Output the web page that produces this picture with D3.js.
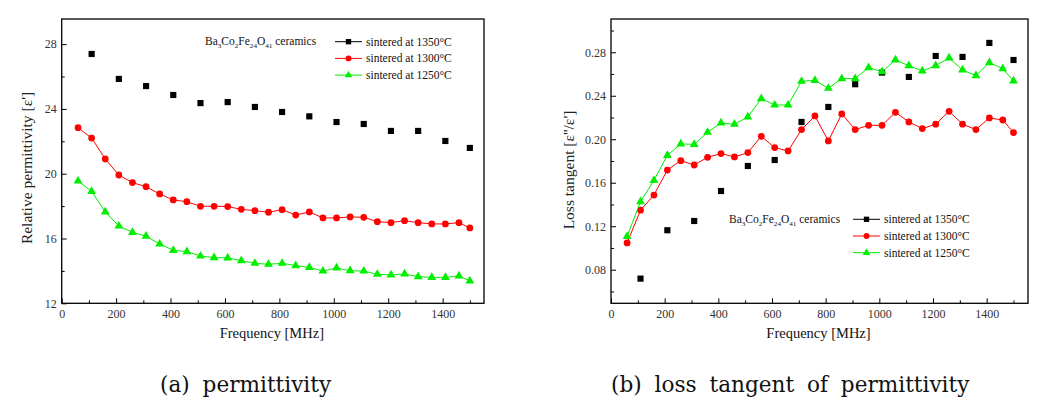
<!DOCTYPE html>
<html><head><meta charset="utf-8">
<script src="https://cdn.jsdelivr.net/npm/d3@7/dist/d3.min.js"></script>
<style>body{margin:0;background:#fff}svg{display:block}</style>
</head><body><svg id="c" width="1064" height="417"></svg>
<script>
// ---------- data ----------
const freqMain = [60,110,160,210,260,310,360,410,460,510,560,610,660,710,760,810,860,910,960,1010,1060,1110,1160,1210,1260,1310,1360,1410,1460,1500];
const freqSparse = [110,210,310,410,510,610,710,810,910,1010,1110,1210,1310,1410,1500];
const seriesNames = ["sintered at 1350°C","sintered at 1300°C","sintered at 1250°C"];

const perm1350 = [27.39,25.85,25.41,24.86,24.36,24.42,24.12,23.81,23.54,23.19,23.07,22.64,22.64,22.02,21.59];
const perm1300 = [22.84,22.2,20.91,19.92,19.45,19.2,18.75,18.38,18.27,17.99,17.99,17.97,17.8,17.72,17.62,17.78,17.45,17.64,17.27,17.27,17.33,17.31,17.04,16.98,17.1,16.98,16.9,16.9,16.98,16.65];
const perm1250 = [19.55,18.91,17.64,16.77,16.38,16.14,15.66,15.27,15.19,14.92,14.82,14.8,14.63,14.47,14.41,14.47,14.32,14.22,13.99,14.18,14.01,13.99,13.79,13.75,13.81,13.64,13.6,13.6,13.69,13.38];

const loss1350 = [0.0718,0.1163,0.1248,0.1524,0.1754,0.1809,0.2159,0.2297,0.2506,0.2613,0.2573,0.2766,0.2757,0.2886,0.2729];
const loss1300 = [0.1046,0.1347,0.1487,0.1717,0.1803,0.1763,0.1834,0.1868,0.1837,0.1877,0.2027,0.1923,0.1892,0.2089,0.2214,0.1984,0.2233,0.2089,0.2128,0.2128,0.2248,0.2159,0.2098,0.2138,0.2257,0.2138,0.2089,0.2196,0.2177,0.2061];
const loss1250 = [0.1107,0.1426,0.1622,0.1852,0.1957,0.1953,0.2064,0.215,0.2138,0.2205,0.2374,0.2315,0.2315,0.2533,0.2542,0.2469,0.2558,0.2558,0.2659,0.2622,0.2729,0.2677,0.2628,0.2677,0.2748,0.2637,0.2585,0.2705,0.265,0.2536];

const xTicks = [0,200,400,600,800,1000,1200,1400];
const xMinor = [100,300,500,700,900,1100,1300,1500];
const permTicks = [12,16,20,24,28];
const permMinor = [14,18,22,26];
const lossTicks = [0.08,0.12,0.16,0.20,0.24,0.28];
const lossMinor = [0.06,0.10,0.14,0.18,0.22,0.26,0.30];

// ---------- drawing ----------
const svg = d3.select("#c");
svg.append("rect").attr("width",1064).attr("height",417).attr("fill","#fff");
const FONT = "Liberation Serif, Times New Roman, serif";
const colors = ["#000000","#ff0000","#00ee00"];
const symbols = [d3.symbolSquare, d3.symbolCircle, d3.symbolTriangle];
const symSizes = [38, 36, 34];

function formulaText(g, x, y, size) {
  const t = g.append("text").attr("x",x).attr("y",y)
    .attr("font-family",FONT).attr("font-size",size).attr("fill","#111");
  const parts = [["Ba",0],["3",1],["Co",0],["2",1],["Fe",0],["24",1],["O",0],["41",1],[" ceramics",0]];
  let shifted = false;
  parts.forEach(([s,sub]) => {
    const ts = t.append("tspan").text(s);
    if (sub) { ts.attr("font-size", size*0.62).attr("dy", shifted ? 0 : 3); shifted = true; }
    else { ts.attr("dy", shifted ? -3 : 0); shifted = false; }
  });
}

function panel(cfg) {
  const g = svg.append("g");
  const x = d3.scaleLinear().domain(cfg.xDom).range([cfg.left, cfg.right]);
  const y = d3.scaleLinear().domain(cfg.yDom).range([cfg.bottom, cfg.top]);

  const styleAxis = s => {
    s.attr("font-family",FONT);
    s.select(".domain").remove();
    s.selectAll(".tick line").attr("stroke","#000").attr("stroke-width",1);
    s.selectAll("text").attr("font-family",FONT).attr("font-size",12).attr("fill","#333");
  };
  g.append("g").attr("transform",`translate(0,${cfg.bottom})`)
    .call(d3.axisBottom(x).tickValues(xMinor).tickSize(-3).tickFormat("")).call(styleAxis);
  g.append("g").attr("transform",`translate(0,${cfg.bottom})`)
    .call(d3.axisBottom(x).tickValues(xTicks).tickSizeInner(-5).tickSizeOuter(0).tickPadding(6).tickFormat(d3.format("d"))).call(styleAxis);
  g.append("g").attr("transform",`translate(${cfg.left},0)`)
    .call(d3.axisLeft(y).tickValues(cfg.yMinor).tickSize(-3).tickFormat("")).call(styleAxis);
  g.append("g").attr("transform",`translate(${cfg.left},0)`)
    .call(d3.axisLeft(y).tickValues(cfg.yTicks).tickSizeInner(-5).tickSizeOuter(0).tickPadding(5).tickFormat(cfg.yFmt)).call(styleAxis);

  g.append("rect").attr("x",cfg.left).attr("y",cfg.top)
    .attr("width",cfg.right-cfg.left).attr("height",cfg.bottom-cfg.top)
    .attr("fill","none").attr("stroke","#000").attr("stroke-width",1.3);

  // series
  const series = [
    {xs: freqSparse, ys: cfg.s1350, line:false},
    {xs: freqMain, ys: cfg.s1300, line:true},
    {xs: freqMain, ys: cfg.s1250, line:true}
  ];
  series.forEach((s,i) => {
    const pts = s.xs.map((f,j)=>[f,s.ys[j]]);
    if (s.line) {
      g.append("path").datum(pts).attr("fill","none").attr("stroke",colors[i]).attr("stroke-width",1)
        .attr("d", d3.line().x(d=>x(d[0])).y(d=>y(d[1])));
    }
    g.append("g").selectAll("path").data(pts).join("path")
      .attr("transform", d=>`translate(${x(d[0])},${y(d[1])})`)
      .attr("d", d3.symbol().type(symbols[i]).size(symSizes[i]))
      .attr("fill", colors[i]);
  });

  // axis titles
  g.append("text").attr("x",(cfg.left+cfg.right)/2-1).attr("y",337.5).attr("text-anchor","middle")
    .attr("font-family",FONT).attr("font-size",14.5).attr("fill","#111").text("Frequency [MHz]");
  g.append("text").attr("transform",`translate(${cfg.yLabX},${cfg.yLabY}) rotate(-90)`).attr("text-anchor","middle")
    .attr("font-family",FONT).attr("font-size",15.5).attr("fill","#222").text(cfg.yLabel);

  // legend
  formulaText(g, cfg.formX, cfg.legY + 3.5, 11.5);
  seriesNames.forEach((n,i) => {
    const ly = cfg.legY + i*16.7;
    g.append("line").attr("x1",cfg.legX).attr("x2",cfg.legX+27).attr("y1",ly).attr("y2",ly)
      .attr("stroke",colors[i]).attr("stroke-width",1);
    g.append("path").attr("transform",`translate(${cfg.legX+13.5},${ly})`)
      .attr("d", d3.symbol().type(symbols[i]).size(symSizes[i]*0.75)).attr("fill",colors[i]);
    g.append("text").attr("x",cfg.legX+31).attr("y",ly+4).attr("font-family",FONT)
      .attr("font-size",11.5).attr("fill","#111").text(n);
  });

  // caption
  g.append("text").attr("x",cfg.capX).attr("y",392).attr("font-family","DejaVu Serif, serif")
    .attr("font-size",21.6).attr("fill","#111").attr("word-spacing",cfg.capWS).text(cfg.caption);
}

panel({
  left:61.7, right:484, top:19, bottom:303.3,
  xDom:[0,1552], yDom:[12,29.55],
  yTicks:permTicks, yMinor:permMinor, yFmt:d3.format("d"),
  s1350:perm1350, s1300:perm1300, s1250:perm1250,
  yLabel:"Relative permittivity [ε']", yLabX:32, yLabY:168,
  formX:205, legX:335, legY:41.7,
  caption:"(a) permittivity", capX:160, capWS:6
});
panel({
  left:611, right:1028, top:19, bottom:303.3,
  xDom:[0,1554], yDom:[0.0491,0.3106],
  yTicks:lossTicks, yMinor:lossMinor, yFmt:d3.format(".2f"),
  s1350:loss1350, s1300:loss1300, s1250:loss1250,
  yLabel:"Loss tangent [ε''/ε']", yLabX:574, yLabY:170,
  formX:729, legX:853, legY:219.3,
  caption:"(b) loss tangent of permittivity", capX:611, capWS:6
});
</script></body></html>
